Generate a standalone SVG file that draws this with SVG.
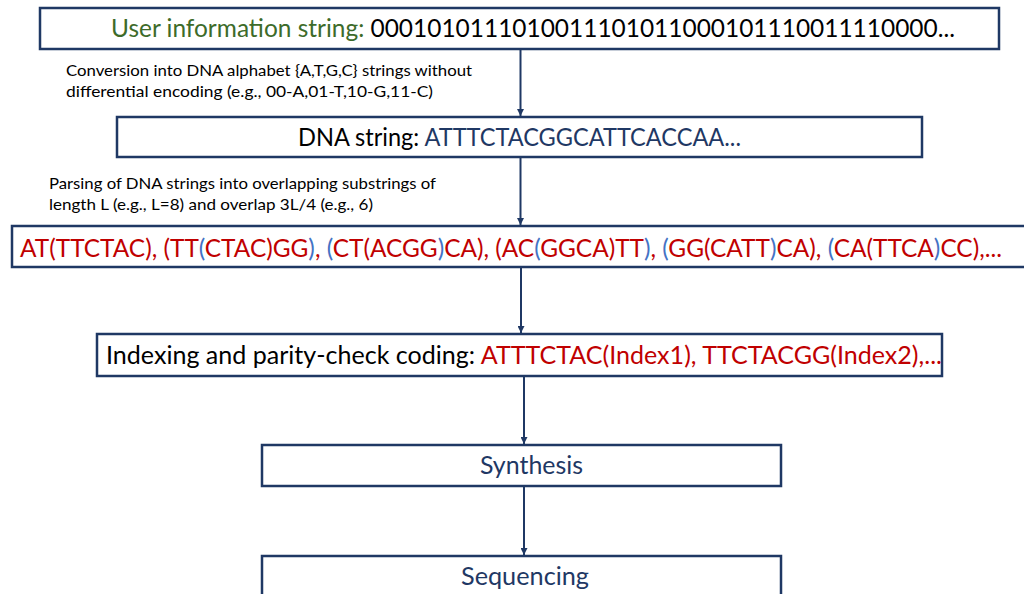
<svg xmlns="http://www.w3.org/2000/svg" width="1024" height="594" viewBox="0 0 1024 594">
  <style>
    .box { fill: #ffffff; stroke: #1f3864; stroke-width: 2.5; }
    .t { font-family: Lato, "Open Sans", "Liberation Sans", sans-serif; }
    .big { font-size: 25px; }
    .note { font-size: 15px; fill: #000000; }
    .green { fill: #3d6b2a; }
    .black { fill: #000000; }
    .navy { fill: #1f3864; }
    .red { fill: #c00000; }
    .lb { fill: #4472c4; }
    .conn { stroke: #1f3864; stroke-width: 2; fill: none; marker-end: url(#arrow); }
  </style>
  <defs>
    <marker id="arrow" viewBox="0 0 10 10" refX="10" refY="5" markerWidth="3.5" markerHeight="3.5" orient="auto" markerUnits="strokeWidth">
      <path d="M0,0 L10,5 L0,10 Z" fill="#1f3864"/>
    </marker>
  </defs>
  <rect width="1024" height="594" fill="#ffffff"/>

  <!-- connectors -->
  <g id="connectors">
    <line class="conn" x1="520.5" y1="49" x2="520.5" y2="116"/>
    <line class="conn" x1="520.5" y1="158" x2="520.5" y2="225"/>
    <line class="conn" x1="521" y1="268" x2="521" y2="333"/>
    <line class="conn" x1="524" y1="377" x2="524" y2="444"/>
    <line class="conn" x1="524" y1="487" x2="524" y2="555"/>
  </g>

  <!-- step labels beside the connectors -->
  <g id="label-conversion">
    <text class="t note" x="66" y="76" textLength="406" lengthAdjust="spacingAndGlyphs">Conversion into DNA alphabet {A,T,G,C} strings without</text>
    <text class="t note" x="66" y="97" textLength="367" lengthAdjust="spacingAndGlyphs">differential encoding (e.g., 00-A,01-T,10-G,11-C)</text>
  </g>
  <g id="label-parsing">
    <text class="t note" x="49" y="189" textLength="387" lengthAdjust="spacingAndGlyphs">Parsing of DNA strings into overlapping substrings of</text>
    <text class="t note" x="49" y="210" textLength="324" lengthAdjust="spacingAndGlyphs">length L (e.g., L=8) and overlap 3L/4 (e.g., 6)</text>
  </g>

  <g id="node-user-info">
    <rect class="box" x="40" y="8" width="959" height="41"/>
    <text class="t big" x="111" y="37" textLength="844" lengthAdjust="spacingAndGlyphs"><tspan class="green">User information string: </tspan><tspan class="black">0001010111010011101011000101110011110000...</tspan></text>
  </g>

  <g id="node-dna-string">
    <rect class="box" x="117" y="117" width="805" height="40"/>
    <text class="t big" x="298" y="146" textLength="443" lengthAdjust="spacingAndGlyphs"><tspan class="black">DNA string: </tspan><tspan class="navy">ATTTCTACGGCATTCACCAA...</tspan></text>
  </g>

  <g id="node-substrings">
    <rect class="box" x="12" y="226" width="1030" height="41"/>
    <text class="t big" x="20" y="257" textLength="982" lengthAdjust="spacingAndGlyphs"><tspan class="red">AT(TTCTAC), (TT</tspan><tspan class="lb">(</tspan><tspan class="red">CTAC)GG</tspan><tspan class="lb">)</tspan><tspan class="red">, </tspan><tspan class="lb">(</tspan><tspan class="red">CT(ACGG</tspan><tspan class="lb">)</tspan><tspan class="red">CA), (AC</tspan><tspan class="lb">(</tspan><tspan class="red">GGCA)TT</tspan><tspan class="lb">)</tspan><tspan class="red">, </tspan><tspan class="lb">(</tspan><tspan class="red">GG(CATT</tspan><tspan class="lb">)</tspan><tspan class="red">CA), </tspan><tspan class="lb">(</tspan><tspan class="red">CA(TTCA</tspan><tspan class="lb">)</tspan><tspan class="red">CC),...</tspan></text>
  </g>

  <g id="node-indexing">
    <rect class="box" x="97" y="334" width="845" height="42"/>
    <text class="t big" x="106" y="364" textLength="836" lengthAdjust="spacingAndGlyphs"><tspan class="black">Indexing and parity-check coding: </tspan><tspan class="red">ATTTCTAC(Index1), TTCTACGG(Index2),...</tspan></text>
  </g>

  <g id="node-synthesis">
    <rect class="box" x="262" y="445" width="519" height="41"/>
    <text class="t big navy" x="480" y="474" textLength="103" lengthAdjust="spacingAndGlyphs">Synthesis</text>
  </g>

  <g id="node-sequencing">
    <rect class="box" x="262" y="556" width="519" height="50"/>
    <text class="t big navy" x="461" y="585" textLength="128" lengthAdjust="spacingAndGlyphs">Sequencing</text>
  </g>
</svg>
